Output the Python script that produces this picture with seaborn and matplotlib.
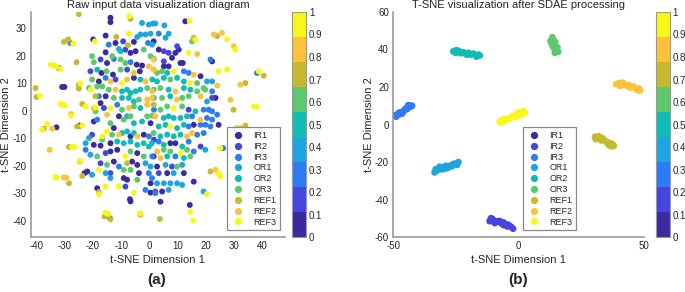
import pandas as pd
import matplotlib
matplotlib.use("Agg")
import matplotlib.pyplot as plt
import seaborn as sns
from matplotlib.colors import ListedColormap, BoundaryNorm
from matplotlib.cm import ScalarMappable
from matplotlib.lines import Line2D


classes = ['IR1', 'IR2', 'IR3', 'OR1', 'OR2', 'OR3', 'REF1', 'REF2', 'REF3']
class_colors = ['#392aa0', '#4545e0', '#2e7bf3', '#1ea5e0', '#12bcb5',
                '#5ec86c', '#c5ba2f', '#fcc23b', '#f7f71a']

# ---- panel (a): raw input data, t-SNE coordinates
raw_ir1 = [(-13.8, 33.9), (-13.8, 32.3), (-19.9, 26), (-30.9, 8.7), (-30.1, 8.7), (-32.9, -6),
           (-24.6, -5.4), (-23, -22.7), (-6.9, -32.2), (-6.7, -33), (12.7, 32.6), (22.2, 18),
           (14.3, -34.3), (-15.5, 27.4), (-12.0, 24.7), (-5.5, 25.1), (-15.5, 21.3), (-6.7, 21.1),
           (-4.9, 21.7), (-15, 17.4), (-4.5, 16.8), (-2.6, 16.5), (-17, 13.8), (-12.9, 13.2),
           (-3.4, 14.4), (-5.5, 12), (-17.9, 10.7), (-15.5, 5.3), (-17.3, 2.8), (-19.7, -3.9),
           (-12.6, -6.3), (-10.8, -2), (0.4, -4.5), (-6.7, -9.3), (-2, -8.7), (-19.7, -12.4),
           (-17.3, -12.7), (-13.8, -11.8), (-13.8, -14.8), (-11.4, -14.2), (-4.3, -15.4),
           (-12.6, -18.5), (-6.1, -18.5), (-4.3, -19.7), (-22, -22.1), (-3.7, -22.7), (-9.1, -24.5),
           (-7.9, -25.1), (0.4, -26.4), (-18.5, -28.2), (0.4, -29.8), (1.5, 25.3), (3.3, 22.3),
           (9.2, 21.1), (10.4, 22.3), (8, 19.3), (11, 17.4), (11.8, 17.4), (5.1, 16.2), (6.8, 16.2),
           (18.1, 12.6), (23.4, 4.7), (24.5, -5.1), (15.7, -5.1), (7.4, -11.8), (9.2, -11.8),
           (1.5, -16.6), (2.7, -20.3), (6.3, -22.7), (12.2, -22.7), (15.7, -25.8), (4.5, -29.4),
           (3.9, -33.1)]
raw_ir2 = [(-32, 15.5), (-9.3, 25.3), (-8.5, 22.3), (-17.3, 18.7), (-20.9, 14.4), (-12, 11.4),
           (-7.9, 15), (-16.1, 1), (-20.3, -8.7), (1.6, -10.5), (-15.5, -15.4), (-17.3, -19.1),
           (-13.8, -22.7), (-8.5, -27.6), (5.1, 21.7), (6.8, 21.1), (9.8, 23.5), (5.1, 18),
           (22.2, 4.7), (13.9, 0.4), (18.1, -13), (8, -20.3), (3.3, -22.7), (2.1, -29.4)]
raw_ir3 = [(-28, 24.7), (-14.4, 24.1), (-0.5, 24.7), (-12.6, 18.9), (-6.7, 17.7), (-15.5, 12),
           (-17.9, 5.3), (-11.4, 2.2), (1.6, 0.4), (-18.5, -3.2), (-0.2, -9.3), (-22.6, -14.2),
           (1, -16.6), (-10.8, -20.3), (-0.2, -22.7), (2.1, -30), (-1.4, -28.8), (-14, -39.1),
           (3.3, 28.1), (12.2, 14.4), (13.9, 13.8), (22.2, 7.1), (19.2, 0.4), (21, 0.4),
           (22.2, -0.2), (24, -1.4), (22.2, -3.2), (20.4, -2.6), (15.1, -2), (13.9, -5.7),
           (18.1, -5.1), (19.8, -5.1), (21.6, -5.7), (16.9, -8.7), (19.2, -8.1), (3.3, -11.2),
           (13.9, -11.2), (15.7, -14.8), (9.2, -16.6), (0.9, -24.5), (21.6, 18.7), (38.1, 13.8),
           (26.1, -13.6)]
raw_or1 = [(-2.6, 32), (-0.2, 31.4), (1.3, 31.8), (-4.3, 26.9), (-3.2, 27.8), (-1.4, 27.8),
           (0.4, 28.1), (1, 24.1), (-10.8, 22.5), (1.6, 18.9), (-21.4, -9.9), (-22.6, -11.8),
           (-20.9, -16), (-15.5, -22.7), (-20.3, -23.3), (-13.8, -24.5), (-1.4, -19.1),
           (0.4, -20.3), (2.1, 31.8), (5.3, 31.1), (6.8, 28.1), (5.7, 26.6), (20.4, 10.7),
           (22.2, 10.7), (20.4, 3.4), (19.8, -14.2), (5.7, -19.7), (11.6, -19.7), (8.6, -22.7),
           (2.7, -26.4), (5.1, -26.4), (7.4, -26.4), (9.8, -26.4), (11.6, -27), (6.8, -28.8),
           (19.2, -29.4)]
raw_or2 = [(-10.2, 21.7), (-18.5, 15), (-3.2, 11.4), (1, 11.4), (-9.7, 7.1), (-7.9, 7.7),
           (-6.7, 6.5), (-4.9, 7.1), (-3.2, 7.7), (-9.7, 4.7), (-7.3, 4.7), (-5.5, 3.4), (-3.2, 1),
           (-7.9, -2), (-5.5, -4.5), (-2.6, -3.9), (-9.7, -8.1), (-7.9, -7.5), (-5.5, -8.1),
           (-11.4, -11.2), (-9.1, -11.8), (-6.7, -11.2), (-4.3, -12.4), (-2, -11.8), (-0.2, -13),
           (6.3, 13.8), (2.7, 10.7), (5.1, 12), (9.8, 12), (12.2, 10.7), (6.8, 7.7), (12.2, 8.3),
           (14.5, 7.7), (1.5, 4.7), (7.4, 5.3), (16.3, -0.2), (5.1, -2.6), (6.8, -2), (8.6, -2.6),
           (11, -2.6), (13.3, -2), (3.3, -5.7), (5.7, -5.1), (9.8, -6.3), (12.2, -5.1), (3.9, -9.3),
           (6.3, -8.7), (8.6, -9.3), (11, -8.7), (0.9, -11.8), (5.1, -12.4), (11.6, -13),
           (6.3, -16.6), (12.2, -17.2)]
raw_or3 = [(-20.3, 19.9), (-13.2, 19.9), (-2, 22.3), (0.4, 19.9), (-19.7, 17.7), (-10.2, 18.7),
           (-8.5, 17.4), (-15.2, 14.4), (-10.2, 15), (-20.3, 11.4), (-21.4, 8.3), (-18.5, 8.9),
           (-16.7, 8.9), (-14.4, 7.7), (-0.8, 8.3), (-12.6, 4.7), (-3.7, 4.1), (-9.7, 0.4),
           (-5.5, 1.6), (-19.1, -0.2), (-13.8, -4.5), (-9.1, -3.2), (-6.7, -2), (-0.8, -2),
           (1, -1.8), (-13.2, -8.7), (-16.7, -10.5), (-18.5, -16.6), (-6.7, -14.8), (-2, -16.6),
           (-15, -19.7), (-9.1, -21.5), (-6.7, -21.5), (-4.3, -25.1), (15.1, 25.3), (2.7, 13.8),
           (4.5, 14.4), (7.4, 11.4), (16.9, 10.1), (19.2, 8.3), (1.5, 7.7), (3.9, 8.3), (16.9, 7.1),
           (19.8, 7.7), (4.5, 4.7), (11.6, 4.7), (13.9, 5.3), (3.9, 0.4), (6.3, 1.6), (11.6, 1.6),
           (1.5, -8.1), (5.1, -14.2), (7.4, -14.8), (13.3, -14.2), (14.5, -16.6), (9.8, -20.3)]
raw_ref1 = [(-25, 35.2), (-6.7, 33.5), (-30.3, 25.1), (-28.8, 26), (-11.7, 26.9), (-25.8, 17.7),
            (-40.3, 8.3), (-40, 5), (-25, 8.1), (-25, 9.4), (-23.8, 2.5), (-37.4, -6.5),
            (-25.6, -5.7), (-28.5, -13.2), (-24.6, -18.5), (-28.5, -26.4), (-23.8, -23.7),
            (-17.9, -29.6), (-15.9, -38.5), (-13.8, -39.5), (-3.2, -37.8), (15.7, 26.6), (24, 27.2),
            (34, 10.1), (40.5, 12.8), (29.8, 0.4), (34, -5.4), (21.6, -22.1), (3.7, -39.4),
            (-7.6, 23.9), (-19.1, 5.3), (-7.9, -19.1), (1.5, 2.2)]
raw_ref2 = [(-19.7, 0.9), (-34.4, -6.5), (-35.3, -14.2), (-30.3, -24.3), (-29.4, -24.3),
            (22.8, 27.8), (25.7, 28.4), (29.9, 23.5), (16.9, 20.7), (32.2, 9.5), (28.7, 4),
            (31, -6.3), (32.4, -6.3), (23.4, -21.5), (-27.7, -1.2), (-0.2, 16.2), (-5.5, 13.8),
            (1.6, 15), (-1.4, 10.7), (-7.9, 11.4), (-13.8, 10.7), (-12, 7.7), (1, 7.1), (-0.8, 4.1),
            (1, 4.7), (-7.3, 1), (-0.8, 2.2), (-15, -1.4), (-10.8, -8.7), (-4.3, -9.3), (1.5, 18.7),
            (1.5, 15), (15.7, 13.2), (24, 9.2), (9.2, 7.1), (9.8, 4.1), (18.1, 5.3), (2.1, -2),
            (18.1, -3.2), (13.3, -9.3), (15.1, -8.1), (2.7, -14.8), (3.9, -17.2)]
raw_ref3 = [(-7.1, 34.5), (-27, 24.4), (-19.3, 25.3), (-35, 16.8), (-33.8, 16.5), (-32.9, 16),
            (-31.5, 15.2), (-38.8, 5.5), (-24.4, 9.9), (-31.5, 2.5), (-30.5, 2.1), (-30, 1.9),
            (-27.7, -1.8), (-22.6, 1.6), (-19.1, 1.3), (-36.2, -4.8), (-38, -6.9), (-23.8, -5.4),
            (-27.4, -13.2), (-26.5, -13.2), (-24.6, -18.2), (-32.7, -24.3), (-33.3, -24.2),
            (-17.9, -30.4), (-15.5, -37.1), (-14.6, -37.6), (-3.2, -37.3), (14.3, 32.8),
            (16.3, 25.9), (27.5, 26), (30.4, 22.3), (13.9, 21.1), (24.5, 14.4), (27.5, 15),
            (38.7, 14.4), (37, 1.6), (38.1, 1.4), (25.1, -13.6), (24.5, -22.7), (25.1, -23.9),
            (20.4, -30.3), (14.5, -36.7), (15.5, -40), (-20.8, 7.7), (-7.3, 28.1), (-9.7, 10.1),
            (-13.8, 1), (-16.7, -9.3), (-15, -7.5), (-8.5, -16.6), (-17.9, -21.5), (-15.5, -27.6),
            (-10.8, -27.6), (-5.5, -29.8), (8.6, 14.4), (14.5, 10.1), (7.4, -5.7), (11, -15.4),
            (8.6, 1)]

# ---- panel (b): after SDAE, each class collapses into one streak
sdae_ir1 = []
sdae_ir2 = [(-11, -50), (-11.5, -51.5), (-10, -51), (-9, -51.8), (-8, -51.5), (-7, -52.5),
            (-6, -52.2), (-5, -53.2), (-4, -53.5), (-3, -54.5), (-2.2, -55.5), (-9.5, -52.5),
            (-6, -53.6), (-10.5, -50.3), (-7.5, -51.4), (-4.5, -54.3)]
sdae_ir3 = [(-49.5, 4.8), (-48.5, 5.2), (-47.5, 5.5), (-47, 6.5), (-46, 6.8), (-45.5, 7.8),
            (-44.5, 8.2), (-44, 9.2), (-43, 9.5), (-42.5, 10), (-46.5, 5.8), (-45, 8.5),
            (-43.5, 10.2), (-48.8, 4.2), (-47.8, 6.2), (-44, 10.3)]
sdae_or1 = [(-33.5, -25.5), (-32.5, -24.5), (-33, -23.8), (-31.5, -24), (-30.5, -22.8),
            (-30, -23.8), (-29, -22), (-28, -22.8), (-27, -21.8), (-26, -21), (-25, -20.8),
            (-24, -20), (-24.5, -21.5), (-31.5, -22.5), (-28.5, -23.3), (-26.5, -22.2)]
sdae_or2 = [(-26, 39), (-25, 38.2), (-24, 39.3), (-23, 38), (-22, 38.5), (-21, 37.6), (-20, 38.2),
            (-19, 37.3), (-18, 37.8), (-17, 36.8), (-16, 37.3), (-15.5, 36.8), (-25.5, 38.6),
            (-23.5, 38.8), (-24.8, 39.6), (-20.5, 37.2), (-16.8, 36.2)]
sdae_or3 = [(13.5, 46.5), (13, 45), (14, 45), (13.2, 43.5), (14.2, 43), (13.5, 42), (14.5, 41.5),
            (14.2, 40.5), (15.2, 40), (15, 39), (15.8, 38.8), (14.5, 38.2), (12.8, 44.2),
            (14.6, 44), (15.5, 41.2)]
sdae_ref1 = [(30.5, -6.5), (31.5, -7), (30.8, -7.8), (32.5, -7.5), (33, -8.5), (34, -8.2),
             (35, -9), (35.5, -10), (36.5, -9.8), (37.5, -10.5), (38, -11.3), (32, -6.2),
             (33.5, -7.2), (36.2, -11), (37, -11.6)]
sdae_ref2 = [(39, 21.5), (40, 22), (41, 21), (42, 21.7), (43, 20.8), (44, 21), (45, 20),
             (46, 20.2), (47, 19), (48, 19.2), (48.5, 18.2), (40.5, 20.6), (41.5, 22.3),
             (44.5, 19.6), (47.5, 18.3)]
sdae_ref3 = [(-7.5, 1.5), (-6.5, 2.5), (-7, 1), (-5.5, 3), (-4.5, 2.8), (-3.5, 3.2), (-2.5, 4.5),
             (-1.5, 4.8), (-0.5, 5.5), (0.5, 5.8), (1.5, 6.5), (2.5, 6.2), (-1, 4), (1, 5),
             (-6, 1.6), (0, 6.6), (2, 7)]

raw_sets = [raw_ir1, raw_ir2, raw_ir3, raw_or1, raw_or2, raw_or3, raw_ref1, raw_ref2, raw_ref3]
sdae_sets = [sdae_ir1, sdae_ir2, sdae_ir3, sdae_or1, sdae_or2, sdae_or3, sdae_ref1, sdae_ref2, sdae_ref3]

cbar_ticks = [0, 0.1, 0.2, 0.3, 0.4, 0.5, 0.6, 0.7, 0.8, 0.9, 1]


def to_frame(sets):
    rows = []
    for name, pts in zip(classes, sets):
        for x, y in pts:
            rows.append((name, x, y))
    return pd.DataFrame(rows, columns=['cls', 'x', 'y'])


sns.set_style('white')
plt.rcParams['font.family'] = ['Liberation Sans', 'DejaVu Sans']
plt.rcParams['axes.unicode_minus'] = False
plt.rcParams['xtick.direction'] = 'in'
plt.rcParams['ytick.direction'] = 'in'

text_color = '#262626'
spine_color = '#9a9a9a'
palette = dict(zip(classes, class_colors))
cmap = ListedColormap(class_colors)
norm = BoundaryNorm([i / 9 for i in range(10)], 9)

fig = plt.figure(figsize=(6.85, 2.92), dpi=100)
ax_a = fig.add_axes([0.045, 0.188, 0.371, 0.771])
cax_a = fig.add_axes([0.427, 0.188, 0.020, 0.771])
ax_b = fig.add_axes([0.574, 0.188, 0.366, 0.771])
cax_b = fig.add_axes([0.958, 0.188, 0.020, 0.771])


def style_axes(ax, title):
    for side in ['top', 'right']:
        ax.spines[side].set_visible(False)
    for side in ['left', 'bottom']:
        ax.spines[side].set_color(spine_color)
        ax.spines[side].set_linewidth(1.2)
    ax.tick_params(labelsize=7, colors=spine_color, labelcolor=text_color,
                   length=2.5, width=0.8, pad=3)
    ax.set_xlabel('t-SNE Dimension 1', fontsize=8, color=text_color, labelpad=3)
    ax.set_ylabel('t-SNE Dimension 2', fontsize=8, color=text_color, labelpad=1)
    ax.set_title(title, fontsize=8, color=text_color, pad=3)


def add_legend(ax, anchor, loc):
    handles = [Line2D([], [], marker='o', ls='', color=c, markersize=4.2) for c in class_colors]
    leg = ax.legend(handles, classes, loc=loc, bbox_to_anchor=anchor, fontsize=6.5,
                    frameon=True, fancybox=False, edgecolor='#8a8a8a', framealpha=1,
                    handlelength=1.6, handletextpad=0.9, labelspacing=0.2,
                    borderpad=0.4, borderaxespad=0)
    leg.get_frame().set_linewidth(0.9)
    for t in leg.get_texts():
        t.set_color(text_color)


def add_colorbar(cax):
    cb = fig.colorbar(ScalarMappable(norm=norm, cmap=cmap), cax=cax, ticks=cbar_ticks)
    cb.ax.set_yticklabels([f'{t:g}' for t in cbar_ticks])
    cb.ax.tick_params(labelsize=7, colors=spine_color, labelcolor=text_color,
                      length=2, width=0.6, direction='in', pad=2)
    cb.outline.set_edgecolor(spine_color)
    cb.outline.set_linewidth(0.8)


raw_df = to_frame(raw_sets)
sns.scatterplot(data=raw_df, x='x', y='y', hue='cls', hue_order=classes, palette=palette,
                s=18, linewidth=0, alpha=1, legend=False, ax=ax_a)
ax_a.set_xlim(-42, 48)
ax_a.set_ylim(-46, 36)
ax_a.set_xticks(range(-40, 41, 10))
ax_a.set_yticks(range(-40, 31, 10))
style_axes(ax_a, 'Raw input data visualization diagram')
add_legend(ax_a, (0.98, 0.031), 'lower right')
add_colorbar(cax_a)

sdae_df = to_frame(sdae_sets)
sns.scatterplot(data=sdae_df, x='x', y='y', hue='cls', hue_order=classes, palette=palette,
                s=24, linewidth=0, alpha=1, legend=False, ax=ax_b)
ax_b.set_xlim(-50, 50)
ax_b.set_ylim(-60, 60)
ax_b.set_xticks([-50, 0, 50])
ax_b.set_yticks(range(-60, 61, 20))
style_axes(ax_b, 'T-SNE visualization after SDAE processing')
add_legend(ax_b, (0.518, 0.031), 'lower left')
add_colorbar(cax_b)

fig.text(0.228, 0.027, '(a)', fontsize=11, fontweight='bold', color=text_color, ha='center')
fig.text(0.756, 0.027, '(b)', fontsize=11, fontweight='bold', color=text_color, ha='center')

fig.savefig('out.png', dpi=100)
